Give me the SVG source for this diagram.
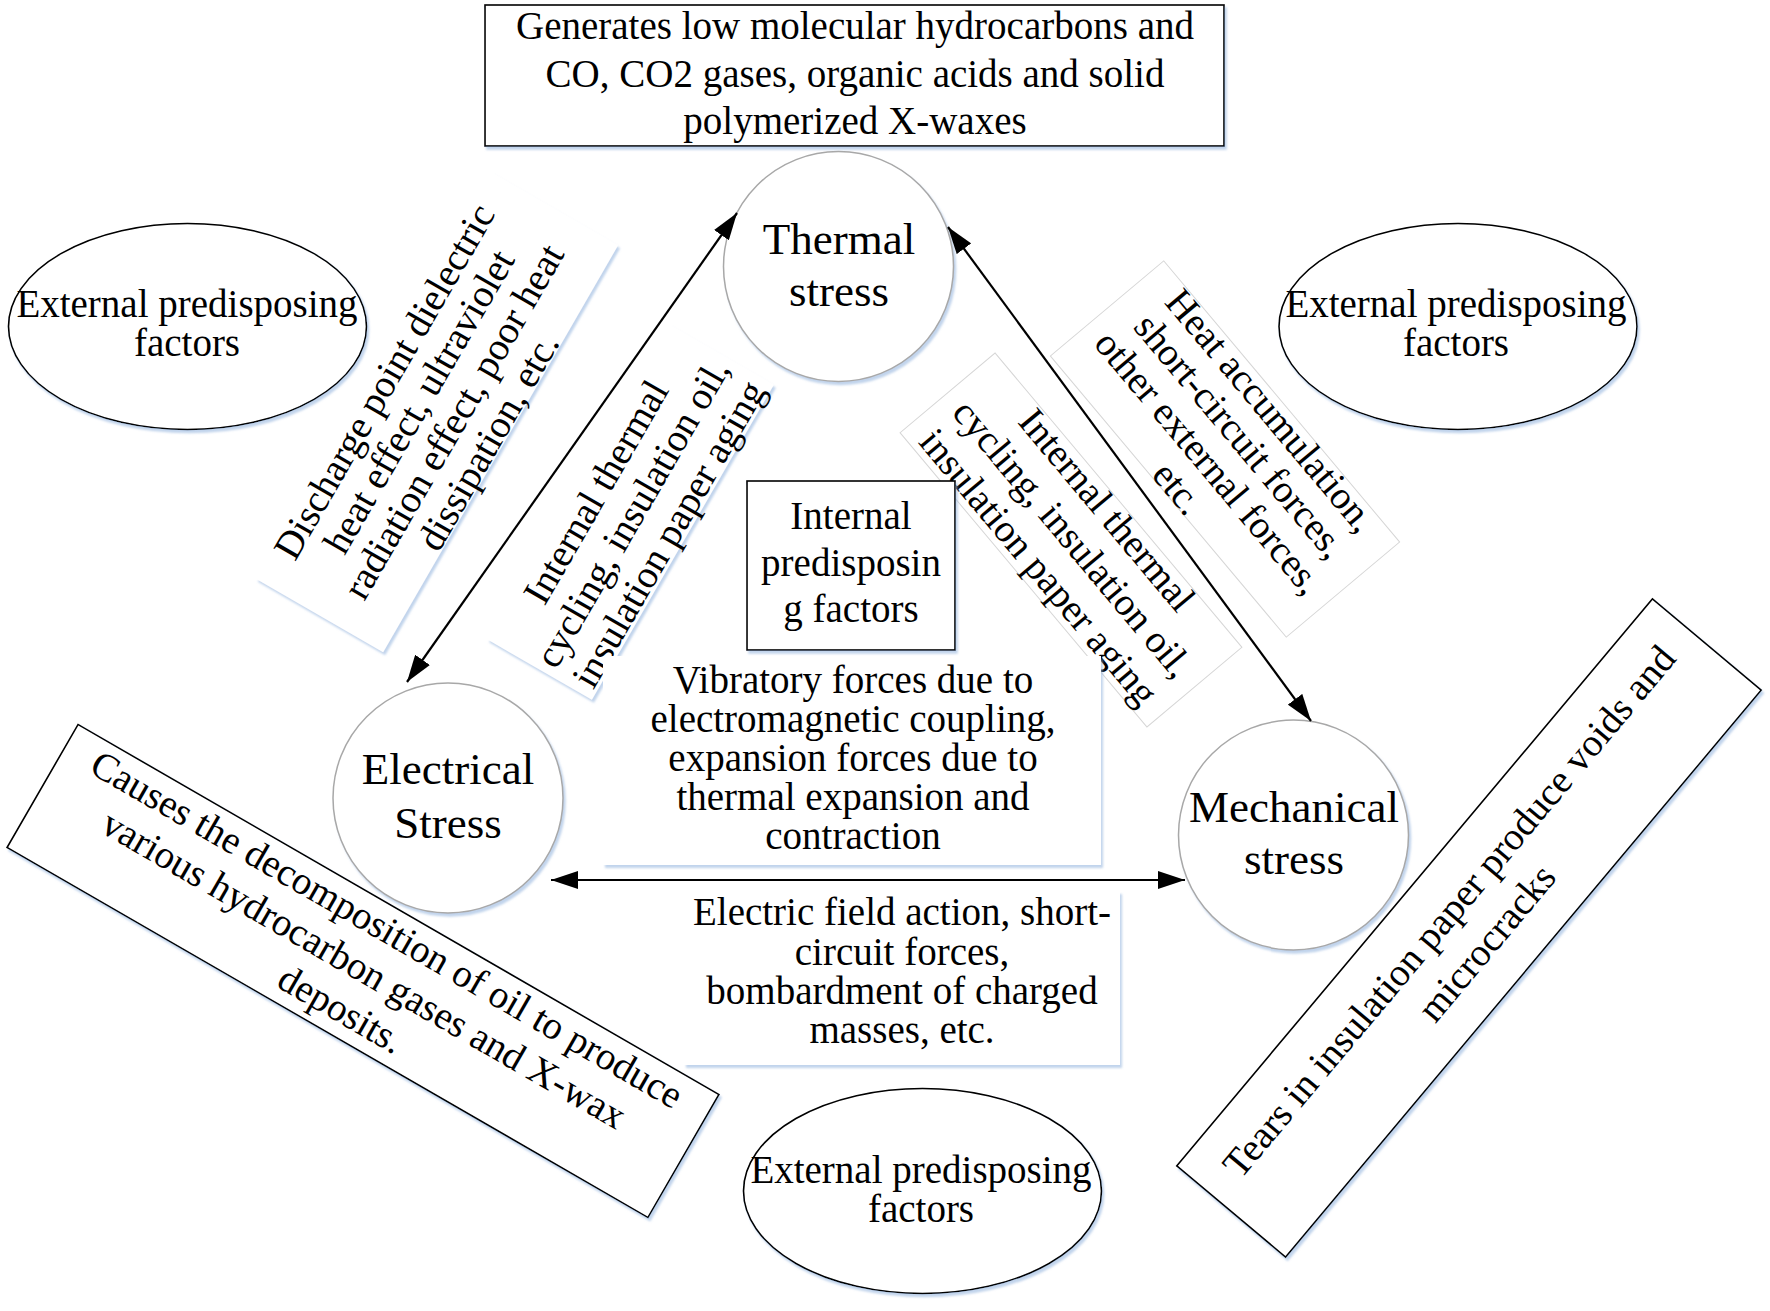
<svg xmlns="http://www.w3.org/2000/svg" width="1770" height="1311" viewBox="0 0 1770 1311">
<defs>
<style>
.t{font-family:"Liberation Serif","Times New Roman",serif;font-size:39px;fill:#000;text-anchor:middle}
.big{font-size:45px}
.box{fill:#fff;stroke:#000;stroke-width:1.6}
.faint{fill:#fff;stroke:none}
.faint2{fill:#fff;stroke:#d6d6d6;stroke-width:1}
.circ{fill:#fff;stroke:#a8a8a8;stroke-width:1.5}
.ell{fill:#fff;stroke:#000;stroke-width:1.6}
.conn{stroke:#000;stroke-width:2.2;fill:none;marker-start:url(#ah);marker-end:url(#ah)}
</style>
<filter id="sh" x="-10%" y="-10%" width="125%" height="125%">
<feDropShadow dx="2" dy="3" stdDeviation="1" flood-color="#8fb0dc" flood-opacity="0.55"/>
</filter>
<marker id="ah" viewBox="0 0 27 18" refX="27" refY="9" markerWidth="27" markerHeight="18" markerUnits="userSpaceOnUse" orient="auto-start-reverse">
<path d="M0,0 L27,9 L0,18 z" fill="#000"/>
</marker>
</defs>
<rect width="1770" height="1311" fill="#fff"/>

<g id="top-box">
<g filter="url(#sh)"><rect class="box" x="485" y="5" width="739" height="141"/></g>
<text class="t"><tspan x="855" y="39">Generates low molecular hydrocarbons and</tspan><tspan x="855" y="86.5">CO, CO2 gases, organic acids and solid</tspan><tspan x="855" y="133.5">polymerized X-waxes</tspan></text>
</g>

<g id="discharge-label">
<g filter="url(#sh)"><rect class="faint" transform="translate(437 412) rotate(-60)" x="-235" y="-73.5" width="470" height="147"/></g>
<text class="t" transform="translate(437 412) rotate(-60)"><tspan x="0" y="-48">Discharge point dielectric</tspan><tspan x="0" y="-8">heat effect, ultraviolet</tspan><tspan x="0" y="32">radiation effect, poor heat</tspan><tspan x="0" y="72">dissipation, etc.</tspan></text>
</g>

<g id="left-internal-label">
<g filter="url(#sh)"><rect class="faint" transform="translate(630.5 512) rotate(-60)" x="-182" y="-60.5" width="364" height="121"/></g>
<text class="t" transform="translate(630.5 512) rotate(-60)"><tspan x="0" y="-27">Internal thermal</tspan><tspan x="0" y="15">cycling, insulation oil,</tspan><tspan x="0" y="57">insulation paper aging</tspan></text>
</g>

<g id="heat-label">
<rect class="faint2" transform="translate(1225 449) rotate(50)" x="-183.5" y="-74" width="367" height="148"/>
<text class="t" transform="translate(1225 449) rotate(50)"><tspan x="0" y="-47">Heat accumulation,</tspan><tspan x="0" y="-7">short-circuit forces,</tspan><tspan x="0" y="34">other external forces,</tspan><tspan x="0" y="74">etc.</tspan></text>
</g>

<g id="right-internal-label">
<rect class="faint2" transform="translate(1071 540) rotate(50)" x="-192" y="-62" width="384" height="124"/>
<text class="t" transform="translate(1071 540) rotate(50)"><tspan x="0" y="-34">Internal thermal</tspan><tspan x="0" y="10.5">cycling, insulation oil,</tspan><tspan x="0" y="55">insulation paper aging</tspan></text>
</g>

<g id="vibratory-label">
<g filter="url(#sh)"><rect class="faint" x="603" y="656" width="498" height="209"/></g>
<text class="t"><tspan x="853" y="693">Vibratory forces due to</tspan><tspan x="853" y="732">electromagnetic coupling,</tspan><tspan x="853" y="771">expansion forces due to</tspan><tspan x="853" y="810">thermal expansion and</tspan><tspan x="853" y="849">contraction</tspan></text>
</g>

<g id="electric-field-label">
<g filter="url(#sh)"><rect class="faint" x="684" y="891" width="436" height="174"/></g>
<text class="t"><tspan x="902" y="925">Electric field action, short-</tspan><tspan x="902" y="964.5">circuit forces,</tspan><tspan x="902" y="1003.5">bombardment of charged</tspan><tspan x="902" y="1042.5">masses, etc.</tspan></text>
</g>

<g id="internal-factors">
<g filter="url(#sh)"><rect class="box" x="747" y="481" width="208" height="169"/></g>
<text class="t"><tspan x="851" y="529">Internal</tspan><tspan x="851" y="576">predisposin</tspan><tspan x="851" y="622">g factors</tspan></text>
</g>

<g id="thermal-stress">
<g filter="url(#sh)"><circle class="circ" cx="838.5" cy="266.5" r="115"/></g>
<text class="t big"><tspan x="839" y="253.5">Thermal</tspan><tspan x="839" y="306">stress</tspan></text>
</g>

<g id="electrical-stress">
<g filter="url(#sh)"><circle class="circ" cx="448" cy="798" r="115"/></g>
<text class="t big"><tspan x="448" y="784">Electrical</tspan><tspan x="448" y="838">Stress</tspan></text>
</g>

<g id="mechanical-stress">
<g filter="url(#sh)"><circle class="circ" cx="1293.5" cy="835" r="115"/></g>
<text class="t big"><tspan x="1294" y="822">Mechanical</tspan><tspan x="1294" y="874">stress</tspan></text>
</g>

<g id="external-left">
<g filter="url(#sh)"><ellipse class="ell" cx="187.5" cy="326.5" rx="179" ry="103"/></g>
<text class="t"><tspan x="187" y="317">External predisposing</tspan><tspan x="187" y="356">factors</tspan></text>
</g>

<g id="external-right">
<g filter="url(#sh)"><ellipse class="ell" cx="1458" cy="326.5" rx="179" ry="103"/></g>
<text class="t"><tspan x="1456" y="317">External predisposing</tspan><tspan x="1456" y="356">factors</tspan></text>
</g>

<g id="external-bottom">
<g filter="url(#sh)"><ellipse class="ell" cx="922.5" cy="1191" rx="179" ry="102.5"/></g>
<text class="t"><tspan x="921" y="1183">External predisposing</tspan><tspan x="921" y="1222">factors</tspan></text>
</g>

<g id="causes-box">
<g filter="url(#sh)"><rect class="box" transform="translate(363 971) rotate(30)" x="-370" y="-71" width="740" height="142"/></g>
<text class="t" transform="translate(363 971) rotate(30)"><tspan x="0" y="-35">Causes the decomposition of oil to produce</tspan><tspan x="0" y="11">various hydrocarbon gases and X-wax</tspan><tspan x="0" y="57">deposits.</tspan></text>
</g>

<g id="tears-box">
<g filter="url(#sh)"><rect class="box" transform="translate(1469 928) rotate(-50)" x="-370" y="-71" width="740" height="142"/></g>
<text class="t" transform="translate(1469 928) rotate(-50)"><tspan x="0" y="-13">Tears in insulation paper produce voids and</tspan><tspan x="0" y="36">microcracks</tspan></text>
</g>

<g id="connectors">
<line class="conn" x1="737" y1="213" x2="407" y2="682"/>
<line class="conn" x1="948" y1="227" x2="1311" y2="721"/>
<line class="conn" x1="551" y1="880" x2="1185" y2="880"/>
</g>
</svg>
